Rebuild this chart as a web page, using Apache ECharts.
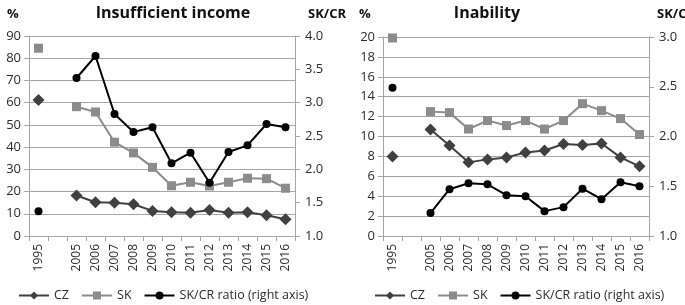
<!DOCTYPE html>
<html>
<head>
<meta charset="utf-8">
<script src="https://cdn.jsdelivr.net/npm/echarts@6/dist/echarts.min.js"></script>
<style>
  html, body { margin: 0; padding: 0; background: #fff; }
  #chart { width: 685px; height: 305px; }
</style>
</head>
<body>
<div id="chart"></div>
<script>
const years = ['1995', '', '2005', '2006', '2007', '2008', '2009', '2010', '2011', '2012', '2013', '2014', '2015', '2016'];

// Insufficient income (%)
const incomeCZ = [61.2, null, 18.2, 15.2, 15.0, 14.3, 11.3, 10.7, 10.5, 11.7, 10.5, 10.7, 9.3, 7.5];
const incomeSK = [84.5, null, 58.2, 55.8, 42.2, 37.4, 30.9, 22.6, 24.2, 22.5, 24.2, 26.0, 25.8, 21.5];
const incomeRatio = [1.37, null, 3.37, 3.70, 2.83, 2.56, 2.63, 2.09, 2.25, 1.80, 2.26, 2.36, 2.68, 2.63];

// Inability (%)
const inabilityCZ = [8.0, null, 10.7, 9.1, 7.4, 7.7, 7.9, 8.4, 8.6, 9.25, 9.15, 9.3, 7.9, 7.0];
const inabilitySK = [19.9, null, 12.5, 12.4, 10.75, 11.6, 11.1, 11.6, 10.75, 11.6, 13.3, 12.6, 11.8, 10.2];
const inabilityRatio = [2.49, null, 1.23, 1.47, 1.53, 1.52, 1.41, 1.40, 1.25, 1.29, 1.475, 1.37, 1.54, 1.50];

const chart = echarts.init(document.getElementById('chart'));
const font = 'Open Sans';
const gridColor = '#a6a6a6';
const textColor = '#2b2b2b';

function xAxisFor(gridIndex) {
    return {
        type: 'category',
        gridIndex: gridIndex,
        data: years,
        boundaryGap: true,
        axisLine: { lineStyle: { color: gridColor, width: 1 } },
        axisTick: { show: true, length: 5, lineStyle: { color: gridColor } },
        axisLabel: { rotate: 90, color: textColor, fontFamily: font, fontSize: 12, margin: 8, interval: 0 }
    };
}

function leftAxis(gridIndex, max, interval) {
    return {
        type: 'value',
        gridIndex: gridIndex,
        min: 0, max: max, interval: interval,
        axisLine: { show: true, lineStyle: { color: gridColor } },
        axisTick: { show: true, length: 5, lineStyle: { color: gridColor } },
        splitLine: { show: true, lineStyle: { color: gridColor, width: 1 } },
        axisLabel: { color: textColor, fontFamily: font, fontSize: 13, margin: 8 }
    };
}

function rightAxis(gridIndex, max) {
    return {
        type: 'value',
        gridIndex: gridIndex,
        position: 'right',
        min: 1, max: max, interval: 0.5,
        axisLine: { show: true, lineStyle: { color: gridColor } },
        axisTick: { show: true, length: 5, lineStyle: { color: gridColor } },
        splitLine: { show: false },
        axisLabel: { color: textColor, fontFamily: font, fontSize: 13, margin: 10,
            formatter: (val) => val.toFixed(1) }
    };
}

function lineSeries(name, data, xi, yi, symbol, size, color) {
    return {
        name: name,
        type: 'line',
        xAxisIndex: xi,
        yAxisIndex: yi,
        data: data,
        symbol: symbol,
        symbolSize: size,
        showAllSymbol: true,
        connectNulls: false,
        lineStyle: { color: color, width: 2 },
        itemStyle: { color: color },
        animation: false
    };
}

const legendNames = ['CZ', 'SK', 'SK/CR ratio (right axis)'];
const legendText = { fontFamily: font, fontSize: 12.5, color: textColor };
const titleText = { fontFamily: font, fontWeight: 'bold', fontSize: 13, color: '#111' };

const option = {
    animation: false,
    title: [
        { text: 'Insufficient income', left: 168, top: 0, textAlign: 'center',
          textStyle: { fontFamily: font, fontWeight: 'bold', fontSize: 16, color: '#111' } },
        { text: 'Inability', left: 482, top: 0, textAlign: 'center',
          textStyle: { fontFamily: font, fontWeight: 'bold', fontSize: 16, color: '#111' } },
        { text: '%', left: 2, top: 3, textStyle: titleText },
        { text: 'SK/CR', left: 303, top: 3, textStyle: titleText },
        { text: '%', left: 354, top: 3, textStyle: titleText },
        { text: 'SK/CR', left: 652, top: 3, textStyle: titleText }
    ],
    legend: [
        { left: 18, top: 289, padding: 0, itemWidth: 30, itemHeight: 10, itemGap: 12,
          textStyle: legendText, data: legendNames },
        { left: 374, top: 289, padding: 0, itemWidth: 30, itemHeight: 10, itemGap: 12,
          textStyle: legendText, data: legendNames }
    ],
    grid: [
        { left: 29, right: 390, top: 36, bottom: 69 },
        { left: 383, right: 36, top: 37, bottom: 69 }
    ],
    xAxis: [xAxisFor(0), xAxisFor(1)],
    yAxis: [leftAxis(0, 90, 10), rightAxis(0, 4), leftAxis(1, 20, 2), rightAxis(1, 3)],
    series: [
        lineSeries('CZ', incomeCZ, 0, 0, 'diamond', 12, '#404040'),
        lineSeries('SK', incomeSK, 0, 0, 'rect', 9, '#8c8c8c'),
        lineSeries('SK/CR ratio (right axis)', incomeRatio, 0, 1, 'circle', 8, '#000'),
        lineSeries('CZ', inabilityCZ, 1, 2, 'diamond', 12, '#404040'),
        lineSeries('SK', inabilitySK, 1, 2, 'rect', 9, '#8c8c8c'),
        lineSeries('SK/CR ratio (right axis)', inabilityRatio, 1, 3, 'circle', 8, '#000')
    ]
};

chart.setOption(option);
</script>
</body>
</html>
